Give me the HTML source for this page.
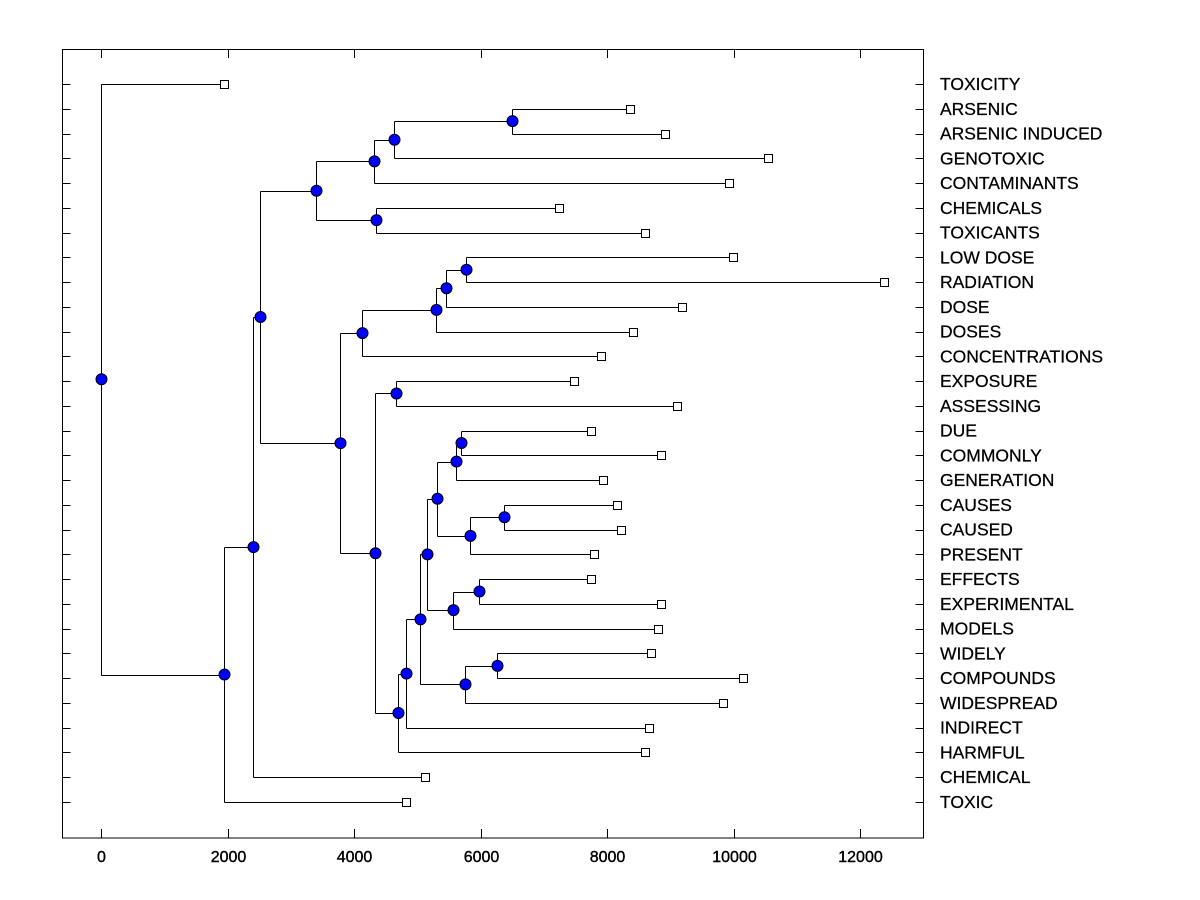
<!DOCTYPE html>
<html><head><meta charset="utf-8"><style>
html,body{margin:0;padding:0;background:#fff;}
svg{display:block;font-family:"Liberation Sans",Arial,sans-serif;}
</style></head><body>
<svg id="chart" width="1200" height="900" xmlns="http://www.w3.org/2000/svg">
<rect x="62.5" y="49.5" width="861" height="788.5" fill="none" stroke="#000" stroke-width="1"/>
<g id="ticks"></g><g id="links"></g><g id="marks"></g><g id="labels"></g>
</svg>
<script>
const leafNames = ["TOXICITY","ARSENIC","ARSENIC INDUCED","GENOTOXIC","CONTAMINANTS","CHEMICALS","TOXICANTS","LOW DOSE","RADIATION","DOSE","DOSES","CONCENTRATIONS","EXPOSURE","ASSESSING","DUE","COMMONLY","GENERATION","CAUSES","CAUSED","PRESENT","EFFECTS","EXPERIMENTAL","MODELS","WIDELY","COMPOUNDS","WIDESPREAD","INDIRECT","HARMFUL","CHEMICAL","TOXIC"];
const leafHeights = [1940,8359,8913,10540,9924,7236,8596,9987,12375,9181,8406,7900,7473,9102,7742,8849,7932,8153,8216,7789,7742,8849,8802,8691,10146,9829,8659,8596,5117,4817];
const nodeNames = ["I","H","F","G","D","N","M","L","J","O","Y","W","Z","X","U","AA","V","S","BB","T","R","Q","P","K","E","C","B","A","root"];
const nodeHeights = [6493,4627,4311,4343,3394,5765,5449,5291,4121,4659,5686,5607,6366,5829,5307,5971,5560,5149,6256,5749,5038,4817,4691,4327,3773,2509,2398,1940,0];
const nodeLeft = ["ARSENIC","I","H","CHEMICALS","F","LOW DOSE","N","M","L","EXPOSURE","DUE","Y","CAUSES","Z","W","EFFECTS","AA","U","WIDELY","BB","S","R","Q","O","J","D","C","B","TOXICITY"];
const nodeRight = ["ARSENIC INDUCED","GENOTOXIC","CONTAMINANTS","TOXICANTS","G","RADIATION","DOSE","DOSES","CONCENTRATIONS","ASSESSING","COMMONLY","GENERATION","CAUSED","PRESENT","X","EXPERIMENTAL","MODELS","V","COMPOUNDS","WIDESPREAD","T","INDIRECT","HARMFUL","P","K","E","CHEMICAL","TOXIC","A"];
const xTicks = [0,2000,4000,6000,8000,10000,12000];

const NS="http://www.w3.org/2000/svg";
const xs = v => 101.3 + v*0.06325;
const ys = i => 84 + i*(802-84)/29;
function mk(tag, attrs, parent){const e=document.createElementNS(NS,tag);for(const k in attrs)e.setAttribute(k,attrs[k]);document.getElementById(parent).appendChild(e);return e;}

const pos = {};
leafNames.forEach((n,i)=>{pos[n]={x:xs(leafHeights[i]),y:ys(i)};});
nodeNames.forEach((n,i)=>{
  const a=pos[nodeLeft[i]], b=pos[nodeRight[i]];
  const x=Math.round(xs(nodeHeights[i]))+0.5, y=(a.y+b.y)/2;
  pos[n]={x:x,y:y};
  const v=mk('line',{x1:x,y1:Math.round(a.y)+0.5,x2:x,y2:Math.round(b.y)+0.5,stroke:'#000'},'links');
  
  
  [a,b].forEach((c,k)=>{
    const h=mk('line',{x1:x,y1:Math.round(c.y)+0.5,x2:c.x,y2:Math.round(c.y)+0.5,stroke:'#000'},'links');
    
    
  });
});
nodeNames.forEach(n=>{
  const p=pos[n];
  const c=mk('circle',{cx:p.x,cy:p.y,r:5.5,fill:'#0000ff',stroke:'#000','stroke-width':1},'marks');
  
  
});
leafNames.forEach((n,i)=>{
  const p=pos[n], y=Math.round(p.y)+0.5;
  const s=mk('rect',{x:Math.round(p.x)-4+0.5,y:y-4,width:8,height:8,fill:'#fff',stroke:'#000'},'marks');
  
  
  const l=mk('line',{x1:62.5,y1:y,x2:70.5,y2:y,stroke:'#000'},'ticks');
  
  
  const r=mk('line',{x1:915.5,y1:y,x2:923.5,y2:y,stroke:'#000'},'ticks');
  
  
  const t=mk('text',{x:940,y:p.y+6,'font-size':17.5,fill:'#000',stroke:'#000','stroke-width':0.25},'labels');
  t.textContent=n;
  
  
});
xTicks.forEach(v=>{
  const x=Math.round(xs(v))+0.5;
  const b=mk('line',{x1:x,y1:838,x2:x,y2:829,stroke:'#000'},'ticks');
  
  
  const tp=mk('line',{x1:x,y1:49.5,x2:x,y2:58,stroke:'#000'},'ticks');
  
  
  const t=mk('text',{x:x,y:862,'font-size':16,'text-anchor':'middle',fill:'#000',stroke:'#000','stroke-width':0.4},'labels');
  t.textContent=v;
  
  
});
</script>
</body></html>
